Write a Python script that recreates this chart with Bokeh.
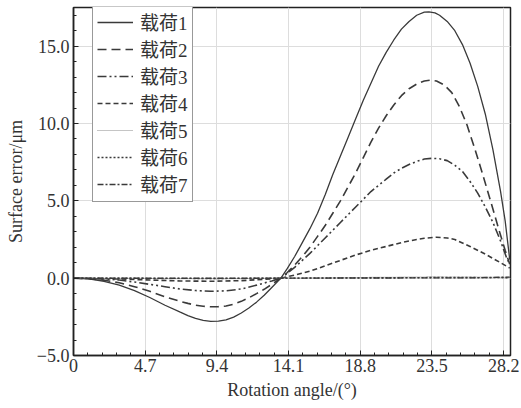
from bokeh.plotting import figure
from bokeh.models import FixedTicker, Legend, LegendItem, Range1d
from bokeh.embed import file_html
from bokeh.resources import INLINE

# ---- data ----
x1 = [0, 1, 2, 3, 4, 5, 6, 7, 7.5, 8, 8.5, 9, 9.5, 10, 10.5, 11, 11.5, 12, 12.5, 13,
      13.6, 14, 14.5, 15, 15.5, 16, 16.5, 17, 17.5, 18, 18.5, 19, 19.5, 20, 20.5, 21,
      21.5, 22, 22.5, 23, 23.3, 23.7, 24, 24.5, 25, 25.5, 26, 26.5, 27, 27.5, 28, 28.3,
      28.6]
load1 = [0, -0.05, -0.2, -0.45, -0.8, -1.25, -1.75, -2.2, -2.42, -2.6, -2.73, -2.8,
         -2.78, -2.7, -2.52, -2.25, -1.93, -1.55, -1.1, -0.6,
         0, 0.6, 1.4, 2.3, 3.2, 4.2, 5.4, 6.7, 7.9, 9.1, 10.3, 11.5, 12.6, 13.7, 14.6,
         15.4, 16.1, 16.6, 17.0, 17.2, 17.22, 17.15, 17.0, 16.6, 16.0, 15.1, 13.9, 12.4,
         10.6, 8.3, 5.6, 3.7, 1.2]

x2 = [0, 1, 2, 3, 4, 5, 6, 7, 7.5, 8, 8.5, 9, 9.5, 10, 10.5, 11, 11.5, 12, 12.5, 13,
      13.6, 14, 14.5, 15, 15.5, 16, 16.5, 17, 17.5, 18, 18.5, 19, 19.5, 20, 20.5, 21,
      21.5, 22, 22.5, 23, 23.4, 23.8, 24.3, 24.8, 25.3, 25.8, 26.3, 26.8, 27.4, 27.9,
      28.3, 28.6]
load2 = [0, -0.03, -0.13, -0.3, -0.55, -0.85, -1.2, -1.5, -1.63, -1.75, -1.82, -1.85,
         -1.84, -1.8, -1.68, -1.5, -1.27, -1.0, -0.72, -0.4,
         0, 0.35, 0.85, 1.4, 2.0, 2.7, 3.4, 4.2, 5.0, 5.9, 6.8, 7.8, 8.8, 9.7, 10.5,
         11.2, 11.8, 12.25, 12.55, 12.75, 12.8, 12.75, 12.5, 12.0, 11.1, 9.9, 8.4, 6.8,
         4.8, 3.1, 1.8, 0.9]

x3 = [0, 2, 3, 4, 5, 6, 7, 8, 9, 10, 11, 12, 13, 13.6, 14, 14.5, 15, 15.5, 16, 16.5,
      17, 17.5, 18, 18.5, 19, 19.5, 20, 20.5, 21, 21.5, 22, 22.5, 23, 23.5, 24, 24.5,
      25, 25.5, 26, 26.5, 27, 27.5, 28, 28.4, 28.6]
load3 = [0, -0.05, -0.12, -0.25, -0.4, -0.55, -0.7, -0.8, -0.85, -0.82, -0.7, -0.45,
         -0.18, 0, 0.3, 0.7, 1.15, 1.6, 2.1, 2.6, 3.1, 3.6, 4.1, 4.6, 5.1, 5.6, 6.0,
         6.4, 6.8, 7.1, 7.35, 7.55, 7.7, 7.75, 7.72, 7.6, 7.3, 6.9, 6.25, 5.5, 4.6,
         3.6, 2.4, 1.3, 0.9]

x4 = [0, 3, 5, 7, 9, 11, 12.5, 13.6, 14.5, 15.5, 16.5, 17.5, 18.5, 19.5, 20.5, 21.5,
      22.5, 23, 23.8, 24.5, 25, 26, 27, 28, 28.6]
load4 = [0, -0.05, -0.12, -0.18, -0.2, -0.16, -0.07, 0, 0.2, 0.45, 0.8, 1.15, 1.5, 1.8,
         2.05, 2.3, 2.5, 2.58, 2.65, 2.6, 2.5, 2.05, 1.55, 1.0, 0.65]

x5 = [0, 4.7, 9.4, 13.6, 18.8, 23.5, 26, 28.6]
load5 = [0, -0.02, -0.04, 0, 0.04, 0.08, 0.07, 0.05]
load6 = [0, -0.01, -0.02, 0, 0.02, 0.04, 0.04, 0.03]
load7 = [0, -0.005, -0.01, 0, 0.01, 0.02, 0.02, 0.07]

labels = ["载荷1", "载荷2", "载荷3", "载荷4", "载荷5", "载荷6", "载荷7"]

x_ticks = [0, 4.7, 9.4, 14.1, 18.8, 23.5, 28.2]
x_tick_labels = ["0", "4.7", "9.4", "14.1", "18.8", "23.5", "28.2"]
y_ticks = [-5, 0, 5, 10, 15]
y_tick_labels = ["\u22125.0", "0.0", "5.0", "10.0", "15.0"]

x_title = "Rotation angle/(°)"
y_title = "Surface error/μm"

# ---- figure ----
SERIF = "Liberation Serif"
p = figure(width=521, height=408, output_backend="svg", toolbar_location=None,
           x_range=Range1d(0, 28.65), y_range=Range1d(-5, 17.5),
           min_border_left=73, min_border_right=11, min_border_top=7,
           min_border_bottom=53)
p.background_fill_color = "white"
p.border_fill_color = "white"
p.outline_line_color = "#222222"
p.outline_line_width = 1.5

minor_x = [round(i * 0.94, 3) for i in range(0, 31)]
minor_y = list(range(-5, 18))
p.xaxis.ticker = FixedTicker(ticks=x_ticks, minor_ticks=minor_x)
p.yaxis.ticker = FixedTicker(ticks=y_ticks, minor_ticks=minor_y)
p.xaxis.major_label_overrides = {t: l for t, l in zip(x_ticks, x_tick_labels)}
p.yaxis.major_label_overrides = {t: l for t, l in zip(y_ticks, y_tick_labels)}

for ax in (p.xaxis, p.yaxis):
    ax.axis_line_color = "#222222"
    ax.axis_line_width = 1.5
    ax.major_tick_in = 5
    ax.major_tick_out = 0
    ax.minor_tick_in = 3
    ax.minor_tick_out = 0
    ax.major_tick_line_color = "#222222"
    ax.minor_tick_line_color = "#222222"
    ax.major_label_text_font = SERIF
    ax.major_label_text_font_size = "18px"
    ax.major_label_text_color = "#333333"
    ax.axis_label_text_font = SERIF
    ax.axis_label_text_font_size = "18px"
    ax.axis_label_text_font_style = "normal"
    ax.axis_label_text_color = "#333333"

p.xaxis.axis_label = x_title
p.yaxis.axis_label = y_title
p.xaxis.major_label_standoff = 3
p.yaxis.major_label_standoff = 4
p.xaxis.axis_label_standoff = 5
p.yaxis.axis_label_standoff = 8

p.xgrid.grid_line_color = "#dddddd"
p.ygrid.grid_line_color = "#dddddd"
p.xgrid.grid_line_width = 1
p.ygrid.grid_line_width = 1

C = "#3a3a3a"
r1 = p.line(x1, load1, line_color=C, line_width=1.3)
r2 = p.line(x2, load2, line_color=C, line_width=1.6, line_dash="9 5")
r3 = p.line(x3, load3, line_color=C, line_width=1.6, line_dash="9 3 2 3 2 3")
r4 = p.line(x4, load4, line_color=C, line_width=1.6, line_dash="5 3")
r5 = p.line(x5, load5, line_color="#8a8a8a", line_width=1.2, line_dash="1 1")
r6 = p.line(x5, load6, line_color=C, line_width=1.4, line_dash="2 2")
r7 = p.line(x5, load7, line_color=C, line_width=1.4, line_dash="6 2 2 2")

legend = Legend(items=[LegendItem(label=l, renderers=[r]) for l, r in
                       zip(labels, [r1, r2, r3, r4, r5, r6, r7])],
                location=(19, 153))
legend.margin = 0
legend.padding = 4
legend.spacing = 0
legend.glyph_width = 36
legend.glyph_height = 20
legend.label_height = 20
legend.label_width = 48
legend.label_standoff = 7
legend.label_text_font = "Liberation Serif, Noto Sans CJK SC"
legend.label_text_font_size = "19px"
legend.label_text_line_height = 1.0
legend.label_text_color = "#333333"
legend.border_line_color = "#333333"
legend.border_line_width = 1.2
legend.background_fill_color = "white"
legend.background_fill_alpha = 1.0
p.add_layout(legend)

open("out.html", "w").write(file_html(p, INLINE))
